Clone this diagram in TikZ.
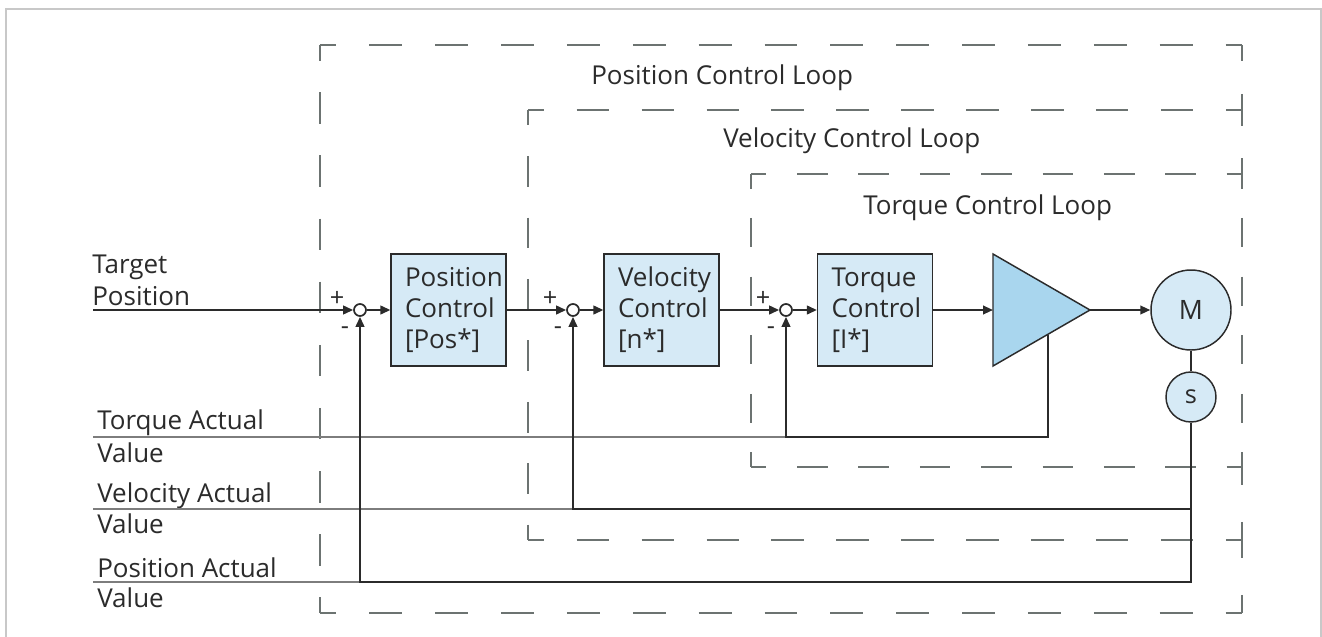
\documentclass[tikz,border=0pt]{standalone}
\usepackage{fontspec}
\setmainfont{Open Sans}
\usetikzlibrary{arrows.meta}
\definecolor{inkgray}{HTML}{2B2B2B}
\definecolor{loopgray}{HTML}{6C7371}
\definecolor{boxblue}{HTML}{D6EAF6}
\definecolor{ampblue}{HTML}{A9D6EE}
\definecolor{framegray}{HTML}{C8C8C8}
\definecolor{tapgray}{HTML}{7D7D7D}
\hfuzz=60pt
\hbadness=10000

\tikzset{
  labeltext/.style={text=inkgray,inner sep=0pt,font=\fontsize{19.5}{23.25}\selectfont},
  signtext/.style={text=inkgray,inner sep=0pt,font=\fontsize{19}{19}\selectfont},
  ctrlbox/.style={draw=inkgray,fill=boxblue,line width=0.9pt,text=inkgray,
    text width=65.25pt,inner xsep=10.5pt,inner ysep=0pt,minimum height=84pt,
    align=left,font=\fontsize{19.5}{23.25}\selectfont},
  sumpt/.style={circle,draw=inkgray,fill=white,line width=1.3pt,minimum size=9pt,inner sep=0pt},
  motorc/.style={circle,draw=inkgray,fill=boxblue,line width=1.1pt,minimum size=60pt,
    inner sep=0pt,text=inkgray,font=\fontsize{20}{20}\selectfont},
  sensorc/.style={motorc,minimum size=37.5pt,font=\fontsize{19}{19}\selectfont},
  sig/.style={draw=inkgray,line width=1.5pt},
  sigarrow/.style={sig,-{Triangle[length=7.5pt,width=6.5pt]}},
  tapline/.style={draw=tapgray,line width=1pt},
  loopline/.style={draw=loopgray,line width=1.3pt},
}

% one side of a loop frame, dashes fitted so that both corners get a half dash
\newcommand{\loopside}[4]{%
  \pgfmathsetmacro{\sidelen}{veclen(#3-#1,#4-#2)}%
  \pgfmathsetmacro{\sideper}{0.75*\sidelen/max(1,round(\sidelen/65))}%
  \pgfmathsetmacro{\sidedash}{0.5*\sideper}%
  \pgfmathsetmacro{\sidephase}{0.25*\sideper}%
  \draw[loopline,dash pattern=on \sidedash pt off \sidedash pt,dash phase=\sidephase pt] (#1,#2) -- (#3,#4);}

\begin{document}
\begin{tikzpicture}[x=0.75pt,y=0.75pt,yscale=-1,xscale=1]
\useasboundingbox (0,0) rectangle (1322,636);

%Frame
\draw [framegray,line width=1.1pt] (6,645) -- (6,9) -- (1321,9) -- (1321,645);

%Loop frames: position, velocity, torque
\loopside{320}{45}{1242}{45}
\loopside{320}{45}{320}{613}
\loopside{320}{613}{1242}{613}
\loopside{528}{110}{1242}{110}
\loopside{528}{110}{528}{540}
\loopside{528}{540}{1242}{540}
\loopside{751}{174}{1242}{174}
\loopside{751}{174}{751}{467}
\loopside{751}{467}{1242}{467}
%common right edge
\loopside{1242}{45}{1242}{110}
\loopside{1242}{110}{1242}{174}
\loopside{1242}{174}{1242}{467}
\loopside{1242}{467}{1242}{540}
\loopside{1242}{540}{1242}{613}

% Text Node
\node [labeltext,anchor=base west] (lblpos) at (591,84) {Position Control Loop};
% Text Node
\node [labeltext,anchor=base west] (lblvel) at (723,147) {Velocity Control Loop};
% Text Node
\node [labeltext,anchor=base west] (lbltrq) at (863,214) {Torque Control Loop};

% Text Node
\node [labeltext,anchor=base west] (tgtone) at (92,273) {Target};
% Text Node
\node [labeltext,anchor=base west] (tgttwo) at (92,305) {Position};
% Text Node
\node [labeltext,anchor=base west] (trqone) at (97,429) {Torque Actual};
% Text Node
\node [labeltext,anchor=base west] (trqtwo) at (97,462) {Value};
% Text Node
\node [labeltext,anchor=base west] (velone) at (97,502) {Velocity Actual};
% Text Node
\node [labeltext,anchor=base west] (veltwo) at (97,533) {Value};
% Text Node
\node [labeltext,anchor=base west] (posone) at (97,577) {Position Actual};
% Text Node
\node [labeltext,anchor=base west] (postwo) at (97,607) {Value};

%Blocks
\node [ctrlbox] (posctrl) at (448.5,310) {Position\\Control\\{[Pos*]}};
\node [ctrlbox] (velctrl) at (661.5,310) {Velocity\\Control\\{[n*]}};
\node [ctrlbox] (trqctrl) at (875,310) {Torque\\Control\\{[I*]}};
\node [motorc] (mot) at (1191,310) {M};
\node [sensorc] (sen) at (1191,397) {s};

%Summing points
\node [sumpt] (sumpos) at (360,310) {};
\node [sumpt] (sumvel) at (573,310) {};
\node [sumpt] (sumtrq) at (786,310) {};
\foreach \s/\x in {sumpos/360,sumvel/573,sumtrq/786}{
  \node [signtext] at (\x-23,299) {+};
  \node [signtext] at (\x-15,331) {-};
}

%Amplifier
\draw [draw=inkgray,fill=ampblue,line width=1.1pt] (993,254) -- (1090,310) -- (993,366) -- cycle;
\coordinate (ampin) at (993,310);
\coordinate (ampout) at (1090,310);
\coordinate (ampfb) at (1048,335);

%Corners and line ends
\coordinate (tgtin) at (93,310);
\coordinate (trqtap) at (93,437);
\coordinate (veltap) at (93,509);
\coordinate (postap) at (93,582);
\coordinate (trqfb) at (786,437);
\coordinate (velfb) at (573,509);
\coordinate (posfb) at (360,582);

%Actual value lines
\draw [tapline] (trqtap) -- (trqfb);
\draw [tapline] (veltap) -- (velfb);
\draw [tapline] (postap) -- (posfb);

%Forward path
\draw [sigarrow] (tgtin) -- (sumpos);
\draw [sigarrow] (sumpos) -- (posctrl);
\draw [sigarrow] (posctrl) -- (sumvel);
\draw [sigarrow] (sumvel) -- (velctrl);
\draw [sigarrow] (velctrl) -- (sumtrq);
\draw [sigarrow] (sumtrq) -- (trqctrl);
\draw [sigarrow] (trqctrl) -- (ampin);
\draw [sigarrow] (ampout) -- (mot);
\draw [sig] (mot) -- (sen);

%Feedback
\draw [sigarrow] (ampfb) |- (trqfb) -- (sumtrq);
\draw [sigarrow] (sen) |- (velfb) -- (sumvel);
\draw [sigarrow] (sen) |- (posfb) -- (sumpos);

\end{tikzpicture}
\end{document}
